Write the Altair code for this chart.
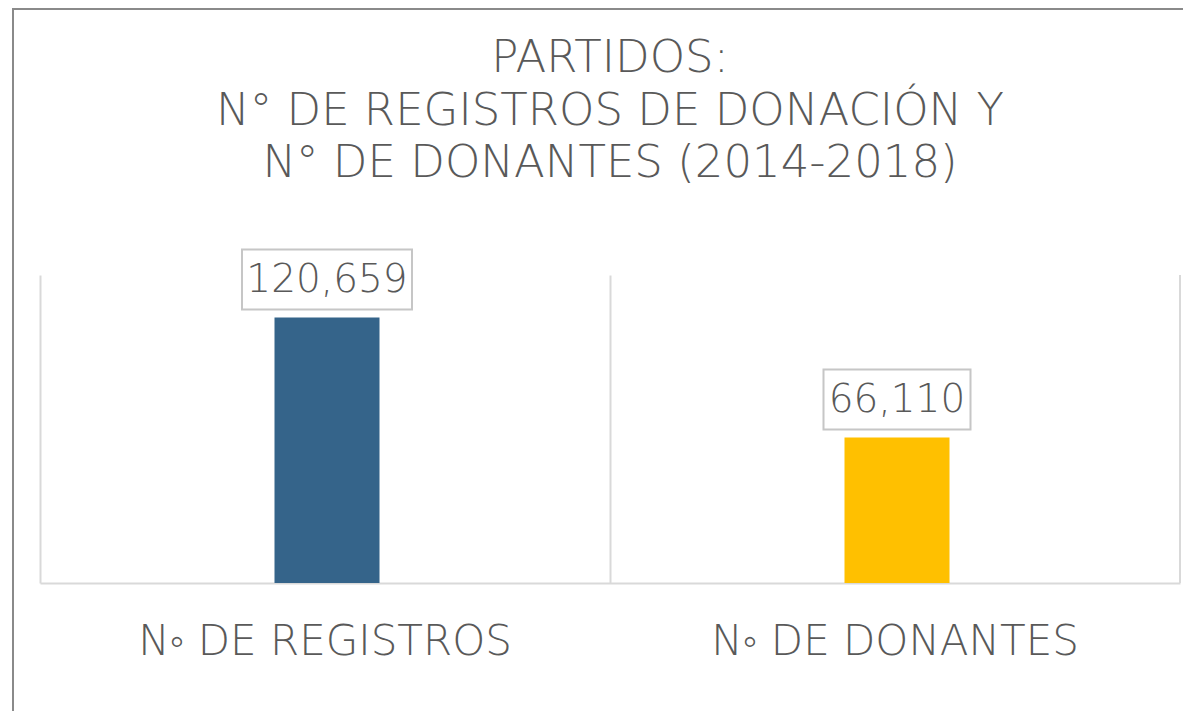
import altair as alt
import pandas as pd

categories = ["N\u25e6 DE REGISTROS", "N\u25e6 DE DONANTES"]
values = [120659, 66110]
labels = ["120,659", "66,110"]
colors = ["#35648A", "#FFC000"]
title_lines = ["PARTIDOS:", "N\u00b0 DE REGISTROS DE DONACI\u00d3N Y", "N\u00b0 DE DONANTES (2014-2018)"]

box_widths = [170, 147]
title_baselines = [-203, -150, -98]

df = pd.DataFrame({"cat": categories, "value": values, "label": labels, "color": colors})

W, H = 1140, 308
FONT = "DejaVu Sans"
TXT = "#595959"
GRID = "#d9d9d9"

x_enc = alt.X("cat:N", sort=categories, scale=alt.Scale(paddingInner=0, paddingOuter=0),
              axis=alt.Axis(title=None, labelAngle=0, labelFontSize=42, labelFont=FONT,
                            labelColor=TXT, labelPadding=38, ticks=False, labelLimit=0,
                            grid=True, gridColor=GRID, gridWidth=2, bandPosition=0,
                            domainColor=GRID, domainWidth=2, labelFontWeight=300))
y_scale = alt.Scale(domain=[0, 140000])

base = alt.Chart(df)
one = base.transform_filter(alt.datum.cat == categories[0])

frame = one.mark_rect(fillOpacity=0, stroke="#8a8a8a", strokeWidth=2, clip=False).encode(
    x=alt.value(-27), x2=alt.value(1300), y=alt.value(-266), y2=alt.value(900)
)

bars = base.mark_bar(size=105, xOffset=2).encode(
    x=x_enc,
    y=alt.Y("value:Q", scale=y_scale, axis=None),
    color=alt.Color("color:N", scale=None),
)

right_rule = one.mark_rule(color=GRID, strokeWidth=2).encode(
    x=alt.value(W), y=alt.value(0), y2=alt.value(H)
)

boxes = []
for cat, bw in zip(categories, box_widths):
    boxes.append(
        base.transform_filter(alt.datum.cat == cat).mark_bar(
            width=bw, fill="white", stroke="#c6c6c6", strokeWidth=2,
            yOffset=-68, y2Offset=-8, xOffset=2
        ).encode(
            x=alt.X("cat:N", sort=categories),
            y=alt.Y("value:Q", scale=y_scale),
            y2="value:Q",
        )
    )

texts = base.mark_text(font=FONT, fontSize=39, color=TXT, dy=-38, dx=2, baseline="middle",
                       fontWeight=300).encode(
    x=alt.X("cat:N", sort=categories),
    y=alt.Y("value:Q", scale=y_scale),
    text="label:N",
)

title_layers = []
for line, yb in zip(title_lines, title_baselines):
    title_layers.append(
        one.mark_text(font=FONT, fontSize=45, fontWeight=300, color=TXT, align="center",
                      baseline="alphabetic", clip=False, text=line).encode(
            x=alt.value(W / 2), y=alt.value(yb)
        )
    )

chart = alt.layer(frame, bars, right_rule, *boxes, texts, *title_layers).properties(
    width=W, height=H,
    autosize=alt.AutoSizeParams(type="none"),
    padding={"left": 32, "top": 267, "right": 3, "bottom": 128},
    background="white",
).configure_view(stroke=None, strokeWidth=0)

chart.save("out.html", embed_options={"renderer": "svg", "actions": False})
